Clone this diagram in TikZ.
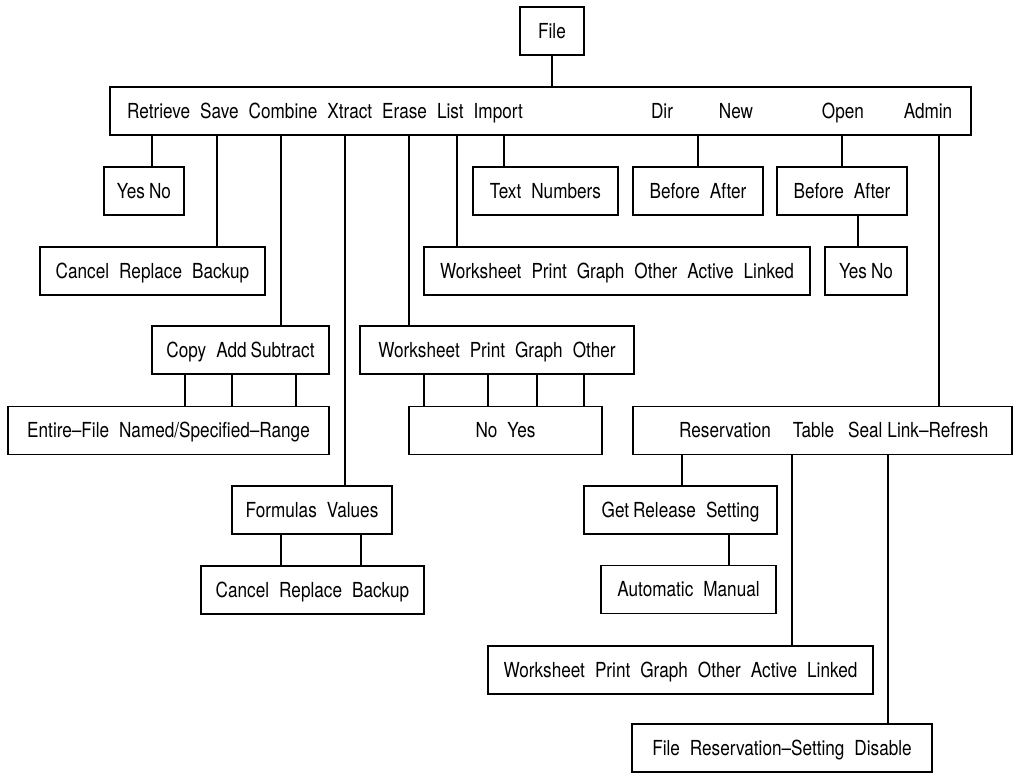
\documentclass[tikz,border=0pt]{standalone}
\usepackage{fontspec}
\setmainfont{TeX Gyre Heros}[FakeStretch=0.83]
\newcommand{\menuFont}{\fontsize{20.7}{24}\selectfont\spaceskip=10pt\relax}
\newcommand{\boxHeight}{48pt}
\newcommand{\lineWidth}{1.1pt}
\newcommand{\tightGap}{\hspace{4pt}}
\tikzset{
  menubox/.style={draw, line width=\lineWidth, minimum height=\boxHeight, inner sep=0pt,
    font=\menuFont, text height=14.8pt, text depth=0pt},
  menutext/.style={inner sep=0pt, font=\menuFont, text height=14.8pt, text depth=0pt},
  link/.style={line width=\lineWidth}
}
\begin{document}
\begin{tikzpicture}[x=1pt,y=-1pt]
\useasboundingbox (0,0) rectangle (1014,773);
\node[menubox, minimum width=64pt] (file) at (552,31) {File};
\node[menubox, minimum width=861pt] (bar) at (540.5,111) {};
\node[menutext, anchor=west] (barLeft) at (127,111) {Retrieve Save Combine Xtract Erase List Import};
\node[menutext] (dir) at (662,111) {Dir};
\node[menutext] (new) at (736,111) {New};
\node[menutext] (open) at (843,111) {Open};
\node[menutext] (admin) at (928,111) {Admin};
\node[menubox, minimum width=80pt] (yesNoA) at (144,191) {Yes\tightGap No};
\node[menubox, minimum width=225pt] (cancelA) at (152.5,271) {Cancel Replace Backup};
\node[menubox, minimum width=177pt] (copyAdd) at (240.5,350) {Copy Add\tightGap Subtract};
\node[menubox, minimum width=321pt] (entire) at (168.5,430.5) {Entire--File Named/Specified--Range};
\node[menubox, minimum width=160pt] (formulas) at (312,510) {Formulas Values};
\node[menubox, minimum width=223pt] (cancelB) at (312.5,590) {Cancel Replace Backup};
\node[menubox, minimum width=274pt] (printList) at (497,350) {Worksheet Print Graph Other};
\node[menubox, minimum width=193pt] (noYes) at (505.5,430.5) {No Yes};
\node[menubox, minimum width=386pt] (linkedA) at (617,271) {Worksheet Print Graph Other Active Linked};
\node[menubox, minimum width=145pt] (textNum) at (545.5,191) {Text Numbers};
\node[menubox, minimum width=130pt] (beforeA) at (698,191) {Before After};
\node[menubox, minimum width=130pt] (beforeB) at (842,191) {Before After};
\node[menubox, minimum width=82pt] (yesNoB) at (866,271) {Yes\tightGap No};
\node[menubox, minimum width=379pt] (reserve) at (822.5,430.5) {};
\node[menutext, anchor=west] (reserveText) at (679,430.5) {Reservation\hspace{22pt}Table\hspace{14pt}Seal\hspace{5pt}Link--Refresh};
\node[menubox, minimum width=193pt] (getRel) at (680.5,510) {Get\tightGap Release Setting};
\node[menubox, minimum width=175pt] (autoMan) at (688.5,589.5) {Automatic Manual};
\node[menubox, minimum width=385pt] (linkedB) at (680.5,670) {Worksheet Print Graph Other Active Linked};
\node[menubox, minimum width=300pt] (fileRes) at (782,748) {File Reservation--Setting Disable};
\draw[link] (file.south) -- (file.south |- bar.north);
\draw[link] (bar.south -| 152,0) -- (yesNoA.north -| 152,0);
\draw[link] (bar.south -| 217,0) -- (cancelA.north -| 217,0);
\draw[link] (bar.south -| 281,0) -- (copyAdd.north -| 281,0);
\draw[link] (bar.south -| 345,0) -- (formulas.north -| 345,0);
\draw[link] (bar.south -| 409,0) -- (printList.north -| 409,0);
\draw[link] (bar.south -| 457,0) -- (linkedA.north -| 457,0);
\draw[link] (bar.south -| 504,0) -- (textNum.north -| 504,0);
\draw[link] (bar.south -| 698,0) -- (beforeA.north -| 698,0);
\draw[link] (bar.south -| 842,0) -- (beforeB.north -| 842,0);
\draw[link] (bar.south -| 939,0) -- (reserve.north -| 939,0);
\draw[link] (beforeB.south -| 858,0) -- (yesNoB.north -| 858,0);
\foreach \x in {185,232,296}
  \draw[link] (copyAdd.south -| \x,0) -- (entire.north -| \x,0);
\foreach \x in {424,488,537,584}
  \draw[link] (printList.south -| \x,0) -- (noYes.north -| \x,0);
\foreach \x in {281,361}
  \draw[link] (formulas.south -| \x,0) -- (cancelB.north -| \x,0);
\draw[link] (reserve.south -| 682,0) -- (getRel.north -| 682,0);
\draw[link] (reserve.south -| 792,0) -- (linkedB.north -| 792,0);
\draw[link] (reserve.south -| 888,0) -- (fileRes.north -| 888,0);
\draw[link] (getRel.south -| 729,0) -- (autoMan.north -| 729,0);
\end{tikzpicture}
\end{document}
